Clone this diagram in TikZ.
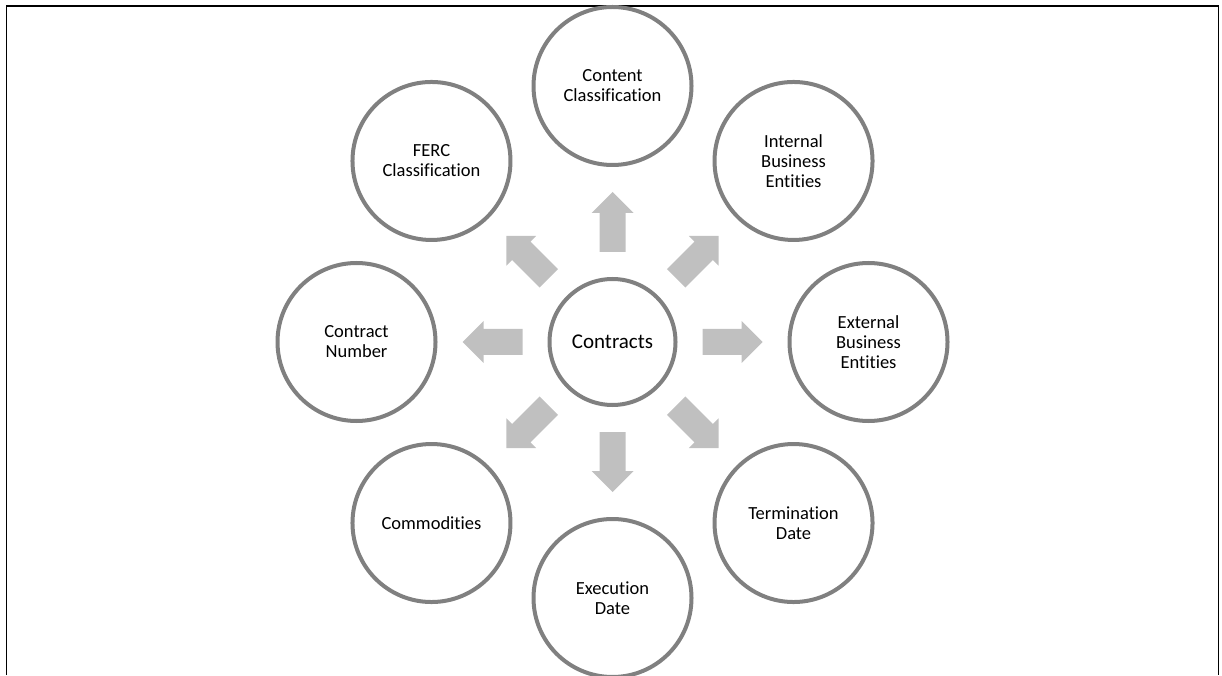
\documentclass[tikz,border=0pt]{standalone}
\usepackage{fontspec}
\setmainfont{Carlito}[Ligatures=NoCommon]

\definecolor{ringgray}{HTML}{808080}
\definecolor{arrowgray}{HTML}{C0C0C0}

\tikzset{
  topic/.style={circle, draw=ringgray, line width=4pt, fill=white, minimum size=158pt,
    inner sep=0pt, align=center, font=\fontsize{18.5}{20}\selectfont},
  hubnode/.style={topic, minimum size=126pt, font=\fontsize{21}{24}\selectfont}
}

\begin{document}
\begin{tikzpicture}[x=1pt,y=1pt]
            \useasboundingbox (0,0) rectangle (1222,675);
            \draw[line width=1.5pt] (6.5,0) -- (6.5,669) -- (1218.5,669) -- (1218.5,0);
            \node[hubnode] (contracts) at (612.5,333) {Contracts};
            \node[topic] (content) at ([shift={(90:256)}]contracts.center) {Content\\Classification};
            \node[topic] (internal) at ([shift={(45:256)}]contracts.center) {Internal\\Business\\Entities};
            \node[topic] (external) at ([shift={(0:256)}]contracts.center) {External\\Business\\Entities};
            \node[topic] (termination) at ([shift={(-45:256)}]contracts.center) {Termination\\Date};
            \node[topic] (execution) at ([shift={(-90:256)}]contracts.center) {Execution\\Date};
            \node[topic] (commodities) at ([shift={(-135:256)}]contracts.center) {Commodities};
            \node[topic] (number) at ([shift={(180:256)}]contracts.center) {Contract\\Number};
            \node[topic] (ferc) at ([shift={(135:256)}]contracts.center) {FERC\\Classification};
            \foreach \a in {0,45,...,315}
              \fill[arrowgray, shift={(contracts.center)}, rotate=\a]
                (90,-13) -- (129,-13) -- (129,-21) -- (150,0) -- (129,21) -- (129,13) -- (90,13) -- cycle;
        \end{tikzpicture}
\end{document}
